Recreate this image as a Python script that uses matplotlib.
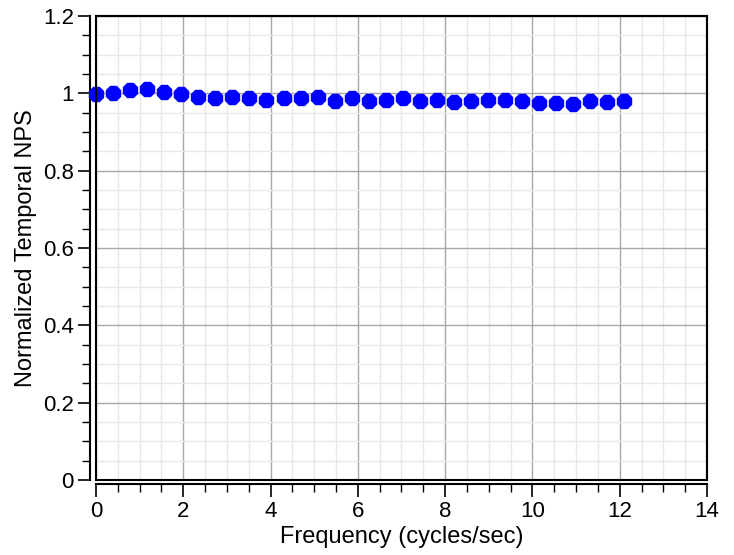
import matplotlib
matplotlib.use("Agg")
import matplotlib.pyplot as plt
from matplotlib.patches import Rectangle
from matplotlib.ticker import MultipleLocator

plt.rcParams['font.family'] = ['Liberation Sans', 'DejaVu Sans']

# Data (frequency bins k * 12.5/32)
freq = [k * 12.5 / 32 for k in range(32)]
nps = [0.998, 1.002, 1.009, 1.011, 1.004, 0.998, 0.991, 0.988,
       0.991, 0.987, 0.984, 0.987, 0.987, 0.991, 0.981, 0.987,
       0.981, 0.984, 0.987, 0.981, 0.984, 0.977, 0.980, 0.984,
       0.984, 0.980, 0.974, 0.974, 0.972, 0.981, 0.978, 0.981]

x_ticks = [0, 2, 4, 6, 8, 10, 12, 14]
y_ticks = [0, 0.2, 0.4, 0.6, 0.8, 1.0, 1.2]
y_tick_labels = ['0', '0.2', '0.4', '0.6', '0.8', '1', '1.2']

fig = plt.figure(figsize=(7.34, 5.55), dpi=100)
ax = fig.add_axes([0.1308, 0.1351, 0.8324, 0.8361])

ax.set_xlim(0, 14)
ax.set_ylim(0, 1.2)
ax.set_xticks(x_ticks)
ax.set_yticks(y_ticks)
ax.set_yticklabels(y_tick_labels)
ax.xaxis.set_minor_locator(MultipleLocator(0.5))
ax.yaxis.set_minor_locator(MultipleLocator(0.05))

ax.grid(which='major', color='#a8a8a8', linewidth=1.0, zorder=0)
ax.grid(which='minor', color='#e8e8e8', linewidth=1.0, zorder=0)
ax.set_axisbelow(True)

ax.plot(freq, nps, linestyle='none', marker='8', markersize=10.5,
        color='#0000ff', markeredgecolor='#0000ff', zorder=5, clip_on=False)

# frame
for s in ['top', 'right']:
    ax.spines[s].set_linewidth(1.5)
ax.spines['left'].set_position(('outward', 4))
ax.spines['bottom'].set_position(('outward', 3))
ax.spines['left'].set_linewidth(1.5)
ax.spines['bottom'].set_linewidth(1.5)
ax.add_patch(Rectangle((0, 0), 1, 1, transform=ax.transAxes, fill=False,
                       edgecolor='black', linewidth=1.5, clip_on=False, zorder=6))

ax.tick_params(which='major', direction='out', length=9, width=1.2,
               labelsize=16, pad=3, color='black')
ax.tick_params(which='minor', direction='out', length=5.5, width=1.0, color='black')

ax.set_xlabel('Frequency (cycles/sec)', fontsize=17, labelpad=3)
ax.set_ylabel('Normalized Temporal NPS', fontsize=17, labelpad=4)

fig.savefig('out.png', dpi=100)
